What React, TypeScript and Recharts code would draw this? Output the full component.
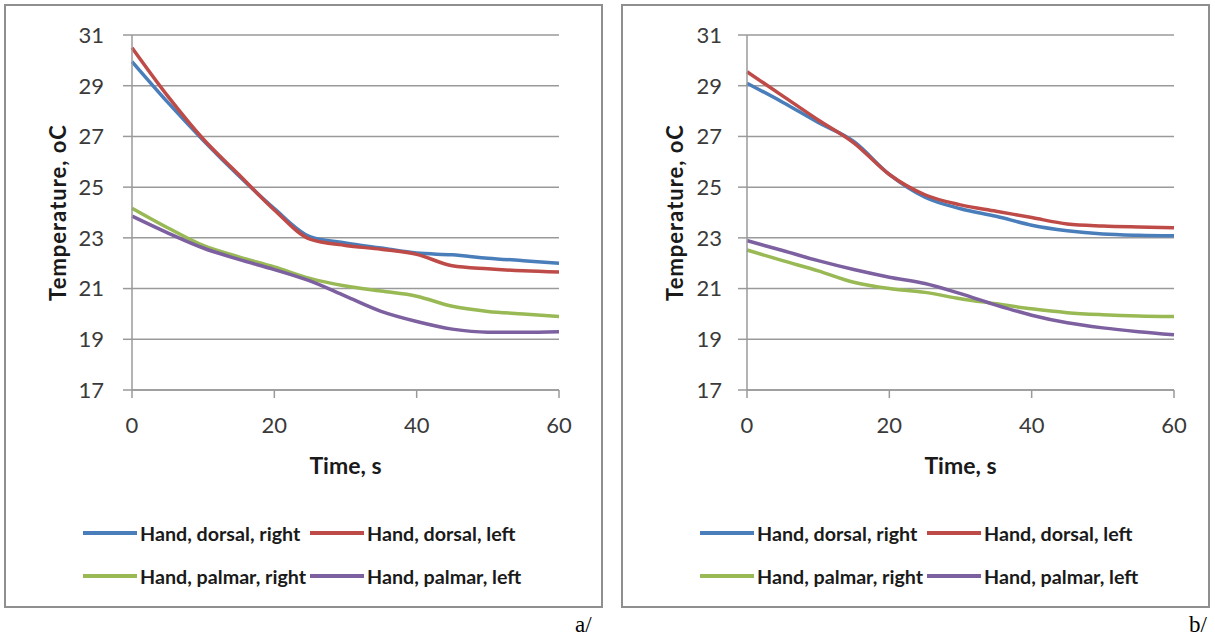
import React from 'react';
import { LineChart, Line, XAxis, YAxis, CartesianGrid } from 'recharts';

const times = [0, 5, 10, 15, 20, 25, 30, 35, 40, 45, 50, 55, 60];
const seriesNames = ['Hand, dorsal, right', 'Hand, dorsal, left', 'Hand, palmar, right', 'Hand, palmar, left'];
const seriesColors = ['#4A7EBB', '#BE4B48', '#98B954', '#7D60A0'];
const xTicks = [0, 20, 40, 60];
const yTicks = [17, 19, 21, 23, 25, 27, 29, 31];
const xTitle = 'Time, s';
const yTitle = 'Temperature, oC';

// Panel a/
const aDorsalRight = [29.95, 28.35, 26.85, 25.45, 24.15, 23.05, 22.8, 22.6, 22.4, 22.33, 22.2, 22.1, 22.0];
const aDorsalLeft = [30.5, 28.6, 26.9, 25.5, 24.1, 22.95, 22.7, 22.55, 22.35, 21.9, 21.78, 21.7, 21.65];
const aPalmarRight = [24.17, 23.4, 22.7, 22.25, 21.85, 21.4, 21.1, 20.9, 20.7, 20.3, 20.1, 20.0, 19.9];
const aPalmarLeft = [23.86, 23.2, 22.6, 22.15, 21.75, 21.3, 20.7, 20.1, 19.7, 19.4, 19.28, 19.28, 19.3];

// Panel b/
const bDorsalRight = [29.1, 28.35, 27.55, 26.8, 25.5, 24.6, 24.15, 23.85, 23.5, 23.28, 23.15, 23.1, 23.08];
const bDorsalLeft = [29.55, 28.6, 27.65, 26.75, 25.5, 24.7, 24.3, 24.05, 23.8, 23.55, 23.47, 23.43, 23.4];
const bPalmarRight = [22.52, 22.1, 21.7, 21.25, 21.0, 20.85, 20.6, 20.4, 20.2, 20.05, 19.97, 19.92, 19.9];
const bPalmarLeft = [22.89, 22.5, 22.1, 21.75, 21.45, 21.2, 20.8, 20.35, 19.95, 19.65, 19.45, 19.3, 19.18];

const seriesKeys = ['s0', 's1', 's2', 's3'];

function buildRows(series: number[][]) {
  return times.map((t, i) => {
    const row: Record<string, number> = { t };
    series.forEach((s, k) => {
      row[seriesKeys[k]] = s[i];
    });
    return row;
  });
}

const FONT = 'Lato, "Open Sans", sans-serif';
const GRID = '#9a9a9a';

type PanelProps = {
  boxLeft: number;
  boxWidth: number;
  plotLeft: number;
  plotRight: number;
  yTickMargin: number;
  series: number[][];
  tag: string;
  tagLeft: number;
};

function Panel({ boxLeft, boxWidth, plotLeft, plotRight, yTickMargin, series, tag, tagLeft }: PanelProps) {
  const H = 604;
  const rows = buildRows(series);
  return (
    <>
      <div
        style={{
          position: 'absolute',
          left: boxLeft - 1,
          top: 4,
          width: boxWidth,
          height: H,
          border: '2px solid #8f8f8f',
          boxSizing: 'border-box',
          background: '#fff',
        }}
      />
      <div style={{ position: 'absolute', left: boxLeft, top: 5, width: boxWidth, height: H }}>
        <LineChart
          width={boxWidth}
          height={H}
          data={rows}
          margin={{ top: 30, right: boxWidth - plotRight, left: 0, bottom: 129 }}
        >
          <CartesianGrid vertical={false} stroke={GRID} strokeWidth={1.5} />
          <XAxis
            dataKey="t"
            type="number"
            domain={[0, 60]}
            ticks={xTicks}
            height={90}
            tickSize={8}
            tickMargin={19}
            stroke={GRID}
            strokeWidth={1.5}
            tick={{ fontSize: 22, fill: '#3a3a3a', fontFamily: FONT }}
            label={{
              content: (p: any) => {
                const vb = p.viewBox || {};
                return (
                  <text
                    x={vb.x + vb.width / 2}
                    y={vb.y + 84}
                    textAnchor="middle"
                    fontFamily={FONT}
                    fontWeight="bold"
                    fontSize={23}
                    fill="#1a1a1a"
                  >
                    {xTitle}
                  </text>
                );
              },
            }}
          />
          <YAxis
            type="number"
            domain={[17, 31]}
            ticks={yTicks}
            width={plotLeft}
            tickSize={9}
            tickMargin={yTickMargin}
            stroke={GRID}
            strokeWidth={1.5}
            tick={{ fontSize: 22, fill: '#3a3a3a', fontFamily: FONT }}
            label={{
              content: (p: any) => {
                const vb = p.viewBox || {};
                const cy = vb.y + vb.height / 2;
                const bx = 61;
                return (
                  <text
                    x={bx}
                    y={cy}
                    transform={`rotate(-90 ${bx} ${cy})`}
                    textAnchor="middle"
                    fontFamily={FONT}
                    fontWeight="bold"
                    fontSize={22}
                    letterSpacing={1}
                    fill="#1a1a1a"
                  >
                    {yTitle}
                  </text>
                );
              },
            }}
          />
          {seriesKeys.map((k, i) => (
            <Line
              key={k}
              type="monotone"
              dataKey={k}
              name={seriesNames[i]}
              stroke={seriesColors[i]}
              strokeWidth={3.5}
              dot={false}
              activeDot={false}
              isAnimationActive={false}
            />
          ))}
        </LineChart>
        {seriesNames.map((name, i) => {
          const col = i % 2;
          const row = Math.floor(i / 2);
          return (
            <div
              key={name}
              style={{
                position: 'absolute',
                left: 78 + col * 227,
                top: 528 + row * 43 - 13,
                height: 26,
                display: 'flex',
                alignItems: 'center',
                whiteSpace: 'nowrap',
              }}
            >
              <span
                style={{
                  display: 'inline-block',
                  width: 54,
                  height: 4,
                  background: seriesColors[i],
                  marginRight: 3,
                }}
              />
              <span style={{ fontFamily: FONT, fontWeight: 'bold', fontSize: 19.7, color: '#1a1a1a' }}>{name}</span>
            </div>
          );
        })}
      </div>
      <div
        style={{
          position: 'absolute',
          left: tagLeft,
          top: 614,
          fontFamily: '"Liberation Serif", "DejaVu Serif", serif',
          fontSize: 23,
          lineHeight: '22px',
          color: '#000',
        }}
      >
        {tag}
      </div>
    </>
  );
}

export default function App() {
  return (
    <div style={{ position: 'absolute', left: 0, top: 0, width: 1215, height: 637, background: '#fff', overflow: 'hidden' }}>
      <Panel
        boxLeft={5}
        boxWidth={599}
        plotLeft={127}
        plotRight={554}
        yTickMargin={19}
        series={[aDorsalRight, aDorsalLeft, aPalmarRight, aPalmarLeft]}
        tag="a/"
        tagLeft={575}
      />
      <Panel
        boxLeft={622}
        boxWidth={589}
        plotLeft={125}
        plotRight={552}
        yTickMargin={16}
        series={[bDorsalRight, bDorsalLeft, bPalmarRight, bPalmarLeft]}
        tag="b/"
        tagLeft={1189}
      />
    </div>
  );
}
